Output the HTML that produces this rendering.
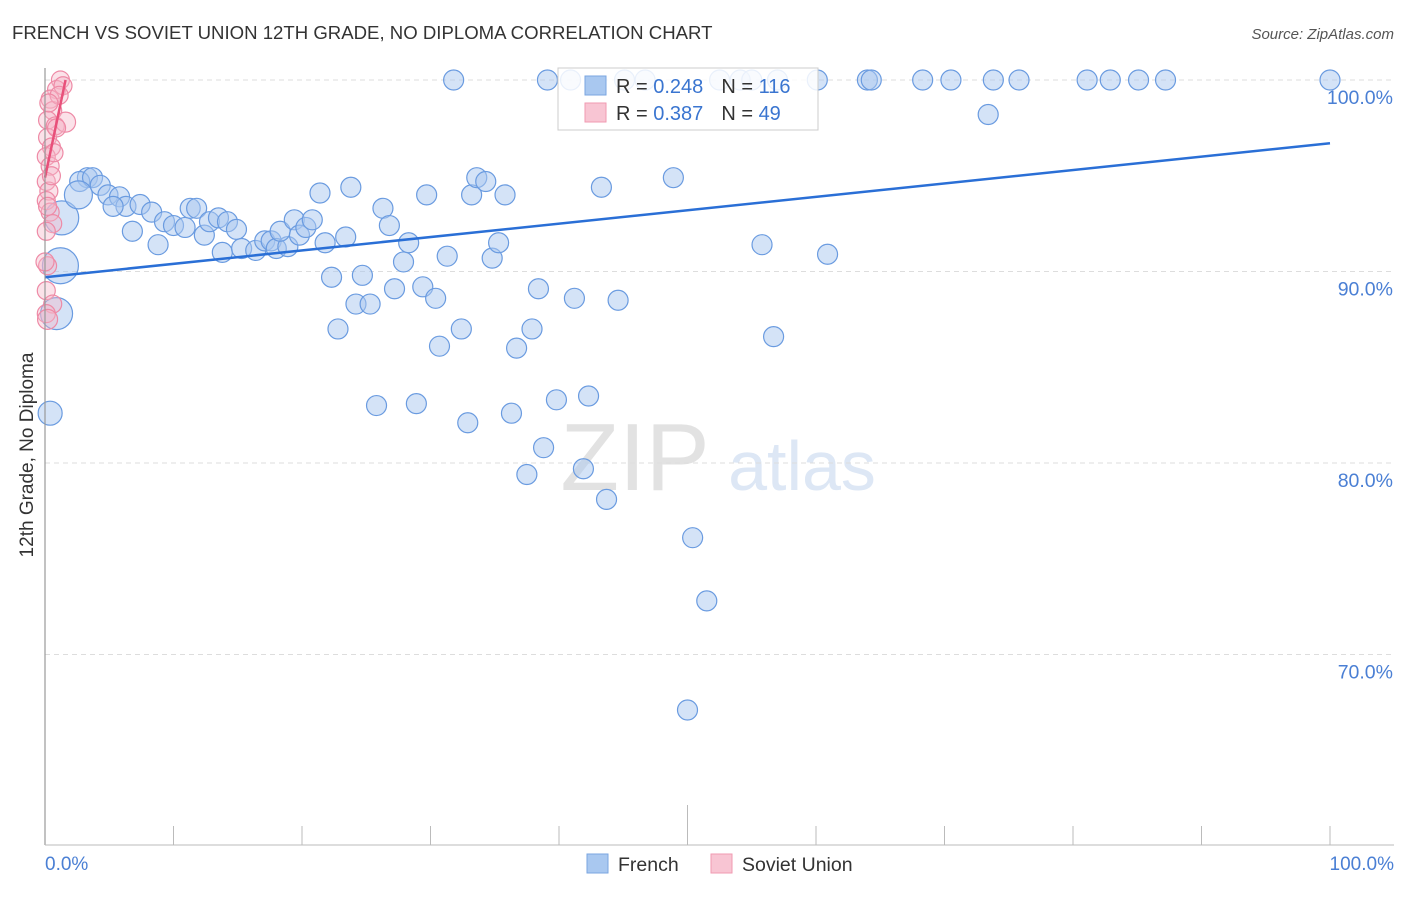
<!DOCTYPE html>
<html><head><meta charset="utf-8"><style>
body{margin:0;background:#fff;font-family:"Liberation Sans",sans-serif}
svg text{font-family:"Liberation Sans",sans-serif}
</style></head><body>
<svg id="c" width="1406" height="892" xmlns="http://www.w3.org/2000/svg">
<text x="12" y="39" font-size="18.6" fill="#333">FRENCH VS SOVIET UNION 12TH GRADE, NO DIPLOMA CORRELATION CHART</text>
<text x="1394" y="39" font-size="15" fill="#555" text-anchor="end" font-style="italic">Source: ZipAtlas.com</text>
<text x="33" y="455" font-size="19" fill="#333" text-anchor="middle" transform="rotate(-90 33 455)">12th Grade, No Diploma</text>
<text x="635" y="490" font-size="96" fill="#e2e2e2" font-family="Liberation Serif" text-anchor="middle">ZIP</text>
<text x="802" y="490" font-size="70" fill="#dde7f5" text-anchor="middle">atlas</text>
<g id="grid"></g><g id="pts"></g><g id="lines"></g>
<line x1="45" y1="68" x2="45" y2="845" stroke="#999" stroke-width="1.2"/>
<line x1="45" y1="845" x2="1394" y2="845" stroke="#bbb" stroke-width="1"/>
<text x="45" y="870" font-size="19" fill="#4a7fd4">0.0%</text>
<text x="1394" y="870" font-size="19" fill="#4a7fd4" text-anchor="end">100.0%</text>
<g>
<rect x="558" y="68" width="260" height="62" fill="#fff" fill-opacity="0.85" stroke="#ccc"/>
<rect x="585" y="76" width="21" height="19" fill="#a9c8f0" stroke="#7aa6e0"/>
<rect x="585" y="103" width="21" height="19" fill="#f8c5d3" stroke="#f09ab2"/>
<text x="616" y="93" font-size="20" fill="#333">R = <tspan fill="#3a75d0">0.248</tspan><tspan dx="18">N = </tspan><tspan fill="#3a75d0">116</tspan></text>
<text x="616" y="120" font-size="20" fill="#333">R = <tspan fill="#3a75d0">0.387</tspan><tspan dx="18">N = </tspan><tspan fill="#3a75d0"> 49</tspan></text>
</g>
<g>
<rect x="587" y="854" width="21" height="19" fill="#a9c8f0" stroke="#7aa6e0"/>
<text x="618" y="871" font-size="19.5" fill="#333">French</text>
<rect x="711" y="854" width="21" height="19" fill="#f8c5d3" stroke="#f09ab2"/>
<text x="742" y="871" font-size="19.5" fill="#333">Soviet Union</text>
</g>
</svg>
<script>
const yTicks=[100,90,80,70];
const yTickLabels=["100.0%","90.0%","80.0%","70.0%"];
const xTicks=[0,10,20,30,40,50,60,70,80,90,100];
const frenchX=[31.8,39.1,40.9,45.1,46.7,52.5,54.1,55.0,57.0,60.1,64.0,64.3,68.3,70.5,73.8,75.8,81.1,82.9,85.1,87.2,100,73.4,3.3,2.7,3.7,4.3,4.9,5.8,6.3,5.3,7.4,8.3,6.8,9.3,10.0,8.8,10.9,11.3,11.8,12.4,12.8,13.5,14.2,14.9,13.8,15.3,16.4,17.1,17.6,18.0,18.9,18.3,19.4,19.8,20.3,20.8,21.4,21.8,23.4,23.8,22.3,24.7,24.2,25.3,26.3,26.8,27.9,28.3,27.2,29.4,29.7,30.4,31.3,32.4,30.7,22.8,25.8,28.9,32.9,33.2,33.6,34.3,34.8,35.3,35.8,36.7,36.3,37.5,37.9,38.4,38.8,39.8,41.2,41.9,42.3,43.3,43.7,44.6,48.9,50.4,51.5,50.0,55.8,56.7,60.9,1.3,1.2,0.9,0.4,2.6];
const frenchY=[100,100,100,100,100,100,100,100,100,100,100,100,100,100,100,100,100,100,100,100,100,98.2,94.9,94.7,94.9,94.5,94.0,93.9,93.4,93.4,93.5,93.1,92.1,92.6,92.4,91.4,92.3,93.3,93.3,91.9,92.6,92.8,92.6,92.2,91.0,91.2,91.1,91.6,91.6,91.2,91.3,92.1,92.7,91.9,92.3,92.7,94.1,91.5,91.8,94.4,89.7,89.8,88.3,88.3,93.3,92.4,90.5,91.5,89.1,89.2,94.0,88.6,90.8,87.0,86.1,87.0,83.0,83.1,82.1,94.0,94.9,94.7,90.7,91.5,94.0,86.0,82.6,79.4,87.0,89.1,80.8,83.3,88.6,79.7,83.5,94.4,78.1,88.5,94.9,76.1,72.8,67.1,91.4,86.6,90.9,92.8,90.3,87.8,82.6,94.0];
const frenchR=[10,10,10,10,10,10,10,10,10,10,10,10,10,10,10,10,10,10,10,10,10,10,10,10,10,10,10,10,10,10,10,10,10,10,10,10,10,10,10,10,10,10,10,10,10,10,10,10,10,10,10,10,10,10,10,10,10,10,10,10,10,10,10,10,10,10,10,10,10,10,10,10,10,10,10,10,10,10,10,10,10,10,10,10,10,10,10,10,10,10,10,10,10,10,10,10,10,10,10,10,10,10,10,10,10,17,18,16,12,14];
const sovietX=[1.2,0.9,0.4,0.6,0.2,0.8,1.6,0.2,0.5,0.1,0.4,0.1,0.3,0.1,0.4,0.6,0.1,0.2,0.1,0.6,0.1,0.2,0.0,1.4,1.1,0.3,0.7,0.5,0.2,0.9];
const sovietY=[100,99.5,99.0,98.4,97.9,97.6,97.8,97.0,96.5,96.0,95.5,94.7,94.2,93.7,93.1,92.5,92.1,90.3,89.0,88.3,87.8,87.5,90.5,99.7,99.2,98.8,96.2,95.0,93.4,97.5];
const sovietR=[9,9,9,9,9,9,10,9,9,9,9,9,9,9,9,9,9,9,9,9,9,10,9,9,9,9,9,9,9,9];
const frenchTrend=[89.7,96.7];
const sovietTrend=[94.9,100,1.6];
const X=v=>45+v*12.85, Y=v=>80+(100-v)*19.15;
const NS="http://www.w3.org/2000/svg";
function mk(tag,attrs,parent){const e=document.createElementNS(NS,tag);for(const k in attrs)e.setAttribute(k,attrs[k]);parent.appendChild(e);return e;}
const grid=document.getElementById('grid'),pts=document.getElementById('pts'),lines=document.getElementById('lines');
yTicks.forEach((t,i)=>{
 const l=mk('line',{x1:45,x2:1394,y1:Y(t),y2:Y(t),stroke:'#ddd','stroke-dasharray':'5,4'},grid);
 
 
 const tx=mk('text',{x:1393,y:Y(t)+24,'font-size':19.5,fill:'#4a7fd4','text-anchor':'end'},grid);
 tx.textContent=yTickLabels[i];
 
 
});
xTicks.forEach(t=>{
 if(t===0)return;
 const l=mk('line',{x1:X(t),x2:X(t),y1:t===50?805:826,y2:845,stroke:'#bbb'},grid);
 
 
});
frenchX.forEach((x,i)=>{
 const c=mk('circle',{cx:X(x),cy:Y(frenchY[i]),r:frenchR[i],fill:'#a9c8f0','fill-opacity':0.5,stroke:'#6a9be0','stroke-width':1.2},pts);
 
 
});
sovietX.forEach((x,i)=>{
 const c=mk('circle',{cx:X(x),cy:Y(sovietY[i]),r:sovietR[i],fill:'#f6b6c8','fill-opacity':0.4,stroke:'#ee8aa6','stroke-width':1.2},pts);
 
 
});
const fl=mk('line',{x1:X(0),y1:Y(frenchTrend[0]),x2:X(100),y2:Y(frenchTrend[1]),stroke:'#2a6fd6','stroke-width':2.5},lines);


const sl=mk('line',{x1:X(0),y1:Y(sovietTrend[0]),x2:X(sovietTrend[2]),y2:Y(sovietTrend[1]),stroke:'#e8507a','stroke-width':2.5},lines);


</script>
</body></html>
